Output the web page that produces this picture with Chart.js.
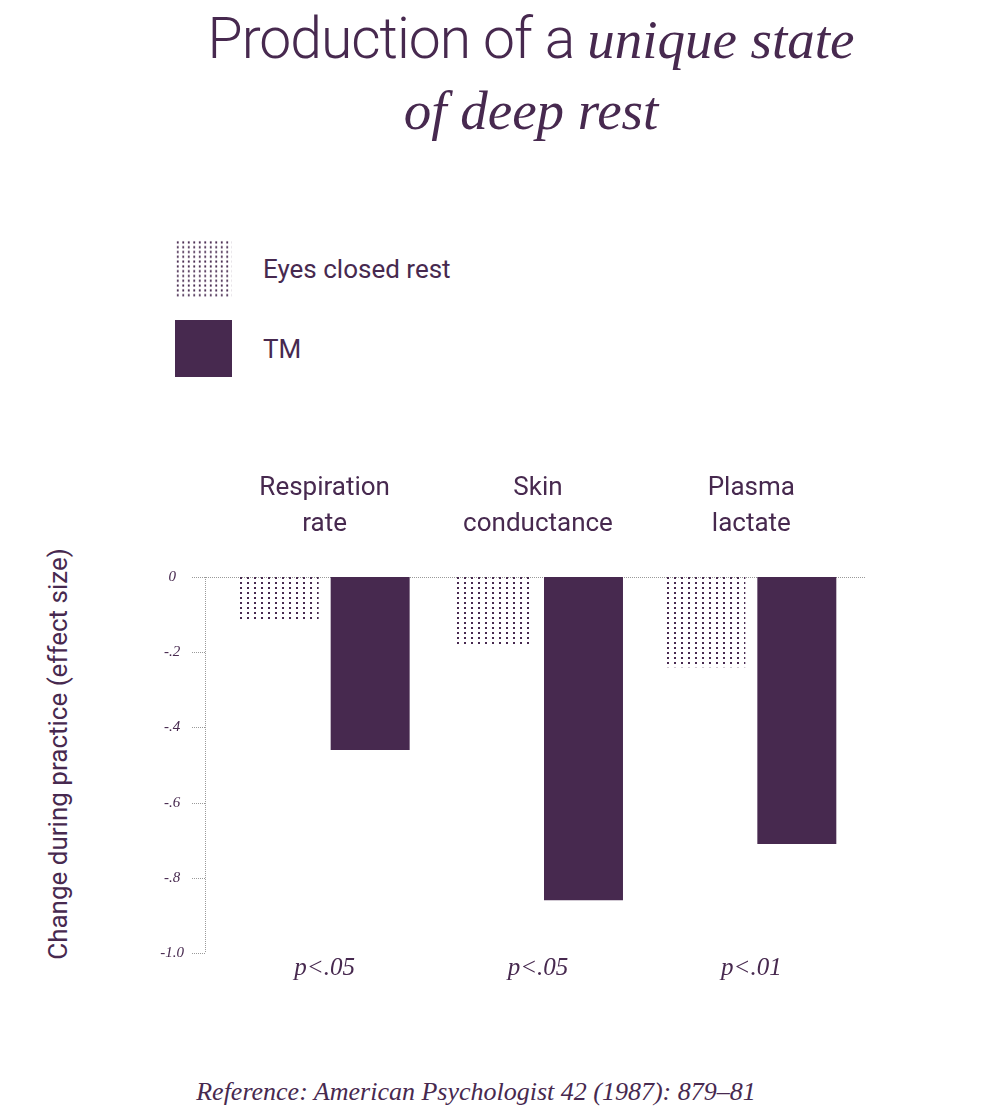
<!DOCTYPE html>
<html lang="en">
<head>
    <meta charset="UTF-8">
    <title>Production of a unique state of deep rest</title>
    <script src="https://cdn.jsdelivr.net/npm/chart.js"></script>
    <style>
        body { margin: 0; background: #fff; color: #47294f; font-family: Roboto, sans-serif; }
        .page { position: relative; width: 1000px; height: 1115px; overflow: hidden; }
        .title { position: absolute; top: 4px; left: 62px; width: 938px; text-align: center;
                 font-size: 57px; font-weight: 300; line-height: 70px; letter-spacing: -1px; }
        .title em { font-family: "Liberation Serif", serif; font-size: 55px; letter-spacing: 0; }
        .swatch { position: absolute; left: 175px; width: 57px; height: 57px; }
        .dots { background-image: radial-gradient(circle, #47294f 0.9px, transparent 1.3px);
                background-size: 5.5px 4.8px; }
        .solid { background: #47294f; }
        .legend-text { position: absolute; left: 263px; font-size: 26px; }
        .ytitle { position: absolute; left: 58px; top: 754px; font-size: 26px; white-space: nowrap;
                  transform: translate(-50%, -50%) rotate(-90deg); }
        .ref { position: absolute; top: 1077px; left: 0; width: 952px; text-align: center;
               font-family: "Liberation Serif", serif; font-style: italic; font-size: 26px; }
        #chart { position: absolute; top: 440px; left: 0; }
    </style>
</head>
<body>
<div class="page">
    <div class="title">Production of a <em>unique state</em><br><em>of deep rest</em></div>

    <div class="swatch dots" style="top:240px"></div>
    <div class="legend-text" style="top:254px">Eyes closed rest</div>
    <div class="swatch solid" style="top:320px"></div>
    <div class="legend-text" style="top:334px">TM</div>

    <div class="ytitle">Change during practice (effect size)</div>
    <canvas id="chart" width="1000" height="560"></canvas>
    <div class="ref">Reference: American Psychologist 42 (1987): 879–81</div>
</div>

<script>
    // data
    const categories = [['Respiration', 'rate'], ['Skin', 'conductance'], ['Plasma', 'lactate']];
    const pValues = ['p<.05', 'p<.05', 'p<.01'];
    const eyesClosed = [-0.12, -0.18, -0.24];
    const tm = [-0.46, -0.86, -0.71];
    const yTicks = [0, -0.2, -0.4, -0.6, -0.8, -1.0];
    const yTickLabels = ['0', '-.2', '-.4', '-.6', '-.8', '-1.0'];

    const purple = '#47294f';

    // dotted fill for the eyes closed bars
    function dotPattern() {
        const c = document.createElement('canvas');
        c.width = 7; c.height = 5;
        const g = c.getContext('2d');
        g.fillStyle = purple;
        g.fillRect(2, 2, 2, 2);
        return g.createPattern(c, 'repeat');
    }

    // dotted axis line, ticks and zero line
    const axisLines = {
        id: 'axisLines',
        beforeDatasetsDraw(chart) {
            const ctx = chart.ctx;
            const y = chart.scales.y;
            const area = chart.chartArea;
            const ax = area.left - 13;
            ctx.save();
            ctx.strokeStyle = '#9a9a9a';
            ctx.lineWidth = 1;
            ctx.setLineDash([1, 1]);
            ctx.beginPath();
            ctx.moveTo(ax + 0.5, y.getPixelForValue(0));
            ctx.lineTo(ax + 0.5, y.getPixelForValue(-1));
            yTicks.forEach(v => {
                const py = Math.round(y.getPixelForValue(v)) + 0.5;
                ctx.moveTo(ax - 13, py);
                ctx.lineTo(v === 0 ? area.right + 7 : ax, py);
            });
            ctx.stroke();
            ctx.restore();
        }
    };

    new Chart(document.getElementById('chart'), {
        type: 'bar',
        data: {
            labels: categories,
            datasets: [{
                label: 'Eyes closed rest',
                data: eyesClosed,
                backgroundColor: dotPattern(),
                categoryPercentage: 0.853,
                barPercentage: 0.868
            }, {
                label: 'TM',
                data: tm,
                backgroundColor: purple,
                categoryPercentage: 0.853,
                barPercentage: 0.868
            }]
        },
        options: {
            responsive: false,
            animation: false,
            layout: { padding: { left: 0, right: 142, top: 0, bottom: 0 } },
            plugins: { legend: { display: false }, tooltip: { enabled: false } },
            scales: {
                x: {
                    position: 'top',
                    grid: { display: false },
                    border: { display: false },
                    ticks: {
                        color: purple,
                        font: { family: 'Roboto', size: 26, lineHeight: 1.4 },
                        padding: 26,
                        maxRotation: 0
                    },
                    afterFit(s) { s.height = 137; }
                },
                x2: {
                    type: 'category',
                    position: 'bottom',
                    labels: pValues,
                    offset: true,
                    grid: { display: false },
                    border: { display: false },
                    ticks: {
                        color: purple,
                        font: { family: 'Liberation Serif', style: 'italic', size: 25 },
                        padding: -8,
                        maxRotation: 0
                    },
                    afterFit(s) { s.height = 47; }
                },
                y: {
                    min: -1,
                    max: 0,
                    grid: { display: false },
                    border: { display: false },
                    afterBuildTicks(s) { s.ticks = yTicks.map(v => ({ value: v })); },
                    ticks: {
                        color: purple,
                        font: { family: 'Liberation Serif', style: 'italic', size: 15 },
                        crossAlign: 'center',
                        padding: 26,
                        callback: (v, i) => yTickLabels[i]
                    },
                    afterFit(s) { s.width = 218; }
                }
            }
        },
        plugins: [axisLines]
    });
</script>
</body>
</html>
